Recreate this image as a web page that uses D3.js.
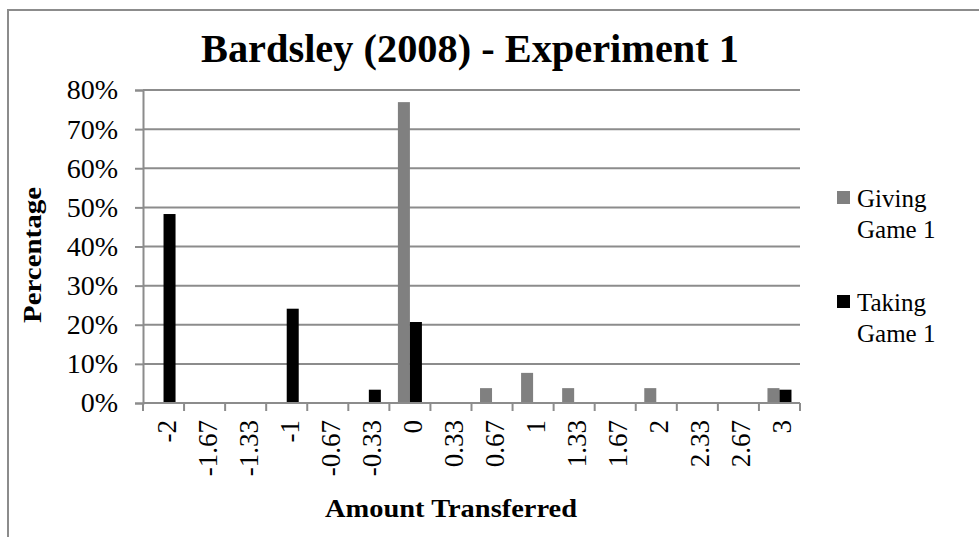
<!DOCTYPE html>
<html>
<head>
<meta charset="utf-8">
<script src="https://cdn.jsdelivr.net/npm/d3@7"></script>
<style>
  body { margin: 0; background: #fff; }
  text { font-family: "Liberation Serif", "DejaVu Serif", serif; fill: #000; }
</style>
</head>
<body>
<div id="chart"></div>
<script>
/*
 * Bardsley (2008) - Experiment 1, grouped bars
 */

var categories = ["-2", "-1.67", "-1.33", "-1", "-0.67", "-0.33", "0", "0.33", "0.67", "1", "1.33", "1.67", "2", "2.33", "2.67", "3"];
var seriesNames = ["Giving Game 1", "Taking Game 1"];
var givingValues = [0, 0, 0, 0, 0, 0, 0.769, 0, 0.038, 0.077, 0.038, 0, 0.038, 0, 0, 0.038];
var takingValues = [0.483, 0, 0, 0.241, 0, 0.034, 0.207, 0, 0, 0, 0, 0, 0, 0, 0, 0.034];
var yTicks = [0, 0.1, 0.2, 0.3, 0.4, 0.5, 0.6, 0.7, 0.8];

var width = 979;
var height = 537;
var margin = { left: 143, right: 179, top: 90, bottom: 134 };
var color = d3.scaleOrdinal()
    .domain(seriesNames)
    .range(["#808080", "#000000"]);
var gridColor = "#8c8c8c";

var svg = d3.select('#chart')
    .append('svg')
    .attr('width', width)
    .attr('height', height);

// chart area border (runs off the right / bottom of the picture)
svg.append('rect')
    .attr('x', 8)
    .attr('y', 10)
    .attr('width', 1000)
    .attr('height', 600)
    .attr('fill', 'none')
    .attr('stroke', gridColor)
    .attr('stroke-width', 2);

var x = d3.scaleBand()
    .domain(categories)
    .range([margin.left, width - margin.right])
    .paddingInner(0)
    .paddingOuter(0);

var xSub = d3.scaleBand()
    .domain(seriesNames)
    .range([0, x.bandwidth()])
    .paddingOuter(0.71)
    .paddingInner(0);

var y = d3.scaleLinear()
    .domain([0, 0.8])
    .range([height - margin.bottom, margin.top]);

// gridlines
svg.append('g')
    .selectAll('line')
    .data(yTicks)
    .enter()
    .append('line')
    .attr('x1', margin.left)
    .attr('x2', width - margin.right)
    .attr('y1', function (d) { return y(d); })
    .attr('y2', function (d) { return y(d); })
    .attr('stroke', gridColor)
    .attr('stroke-width', 2);

// bars
var rows = categories.map(function (c, i) {
    return { cat: c, values: [givingValues[i], takingValues[i]] };
});

var group = svg.append('g')
    .selectAll('g')
    .data(rows)
    .enter()
    .append('g')
    .attr('transform', function (d) { return 'translate(' + x(d.cat) + ',0)'; });

group.selectAll('rect')
    .data(function (d) {
        return seriesNames.map(function (s, j) { return { name: s, value: d.values[j] }; });
    })
    .enter()
    .append('rect')
    .filter(function (d) { return d.value > 0; })
    .attr('x', function (d) { return xSub(d.name); })
    .attr('width', xSub.bandwidth())
    .attr('y', function (d) { return y(d.value); })
    .attr('height', function (d) { return y(0) - y(d.value); })
    .attr('fill', function (d) { return color(d.name); });

// y axis
var yAxis = svg.append('g')
    .attr('transform', 'translate(' + margin.left + ',0)')
    .call(d3.axisLeft(y)
        .tickValues(yTicks)
        .tickFormat(d3.format('.0%'))
        .tickSize(8)
        .tickPadding(17));
yAxis.select('.domain').attr('stroke', gridColor).attr('stroke-width', 2);
yAxis.selectAll('.tick line').attr('stroke', gridColor).attr('stroke-width', 2);
yAxis.selectAll('text')
    .attr('font-size', 28)
    .attr('font-family', '"Liberation Serif", serif')
    .attr('fill', '#000');

// x axis, ticks on category boundaries
var xAxisG = svg.append('g')
    .attr('transform', 'translate(0,' + y(0) + ')');
xAxisG.append('line')
    .attr('x1', margin.left)
    .attr('x2', width - margin.right)
    .attr('stroke', gridColor)
    .attr('stroke-width', 2);
xAxisG.selectAll('.xtick')
    .data(categories.concat(['end']))
    .enter()
    .append('line')
    .attr('class', 'xtick')
    .attr('x1', function (d, i) { return margin.left + i * x.step(); })
    .attr('x2', function (d, i) { return margin.left + i * x.step(); })
    .attr('y1', 0)
    .attr('y2', 8)
    .attr('stroke', gridColor)
    .attr('stroke-width', 2);
xAxisG.selectAll('.xlabel')
    .data(categories)
    .enter()
    .append('text')
    .attr('class', 'xlabel')
    .attr('transform', function (d) {
        return 'translate(' + (x(d) + x.bandwidth() / 2 + 12) + ',17) rotate(-90)';
    })
    .attr('text-anchor', 'end')
    .attr('font-size', 27)
    .text(function (d) { return d; });

// titles
svg.append('text')
    .attr('x', 470)
    .attr('y', 62)
    .attr('text-anchor', 'middle')
    .attr('font-size', 40)
    .attr('font-weight', 'bold')
    .attr('textLength', 538)
    .attr('lengthAdjust', 'spacingAndGlyphs')
    .text('Bardsley (2008) - Experiment 1');

svg.append('text')
    .attr('transform', 'translate(41,255) rotate(-90)')
    .attr('text-anchor', 'middle')
    .attr('font-size', 25)
    .attr('font-weight', 'bold')
    .attr('textLength', 136)
    .attr('lengthAdjust', 'spacingAndGlyphs')
    .text('Percentage');

svg.append('text')
    .attr('x', 451)
    .attr('y', 517)
    .attr('text-anchor', 'middle')
    .attr('font-size', 25)
    .attr('font-weight', 'bold')
    .attr('textLength', 252)
    .attr('lengthAdjust', 'spacingAndGlyphs')
    .text('Amount Transferred');

// legend
var legend = svg.selectAll('.legend')
    .data(seriesNames)
    .enter()
    .append('g')
    .attr('class', 'legend')
    .attr('transform', function (d, i) {
        return 'translate(837,' + (191 + i * 104) + ')';
    });

legend.append('rect')
    .attr('width', 13)
    .attr('height', 13)
    .attr('fill', function (d) { return color(d); });

legend.append('text')
    .attr('x', 20)
    .attr('y', 16)
    .attr('font-size', 25)
    .selectAll('tspan')
    .data(function (d) { return [d.split(' ')[0], d.split(' ').slice(1).join(' ')]; })
    .enter()
    .append('tspan')
    .attr('x', 20)
    .attr('dy', function (d, i) { return i === 0 ? 0 : 31; })
    .text(function (d) { return d; });
</script>
</body>
</html>
